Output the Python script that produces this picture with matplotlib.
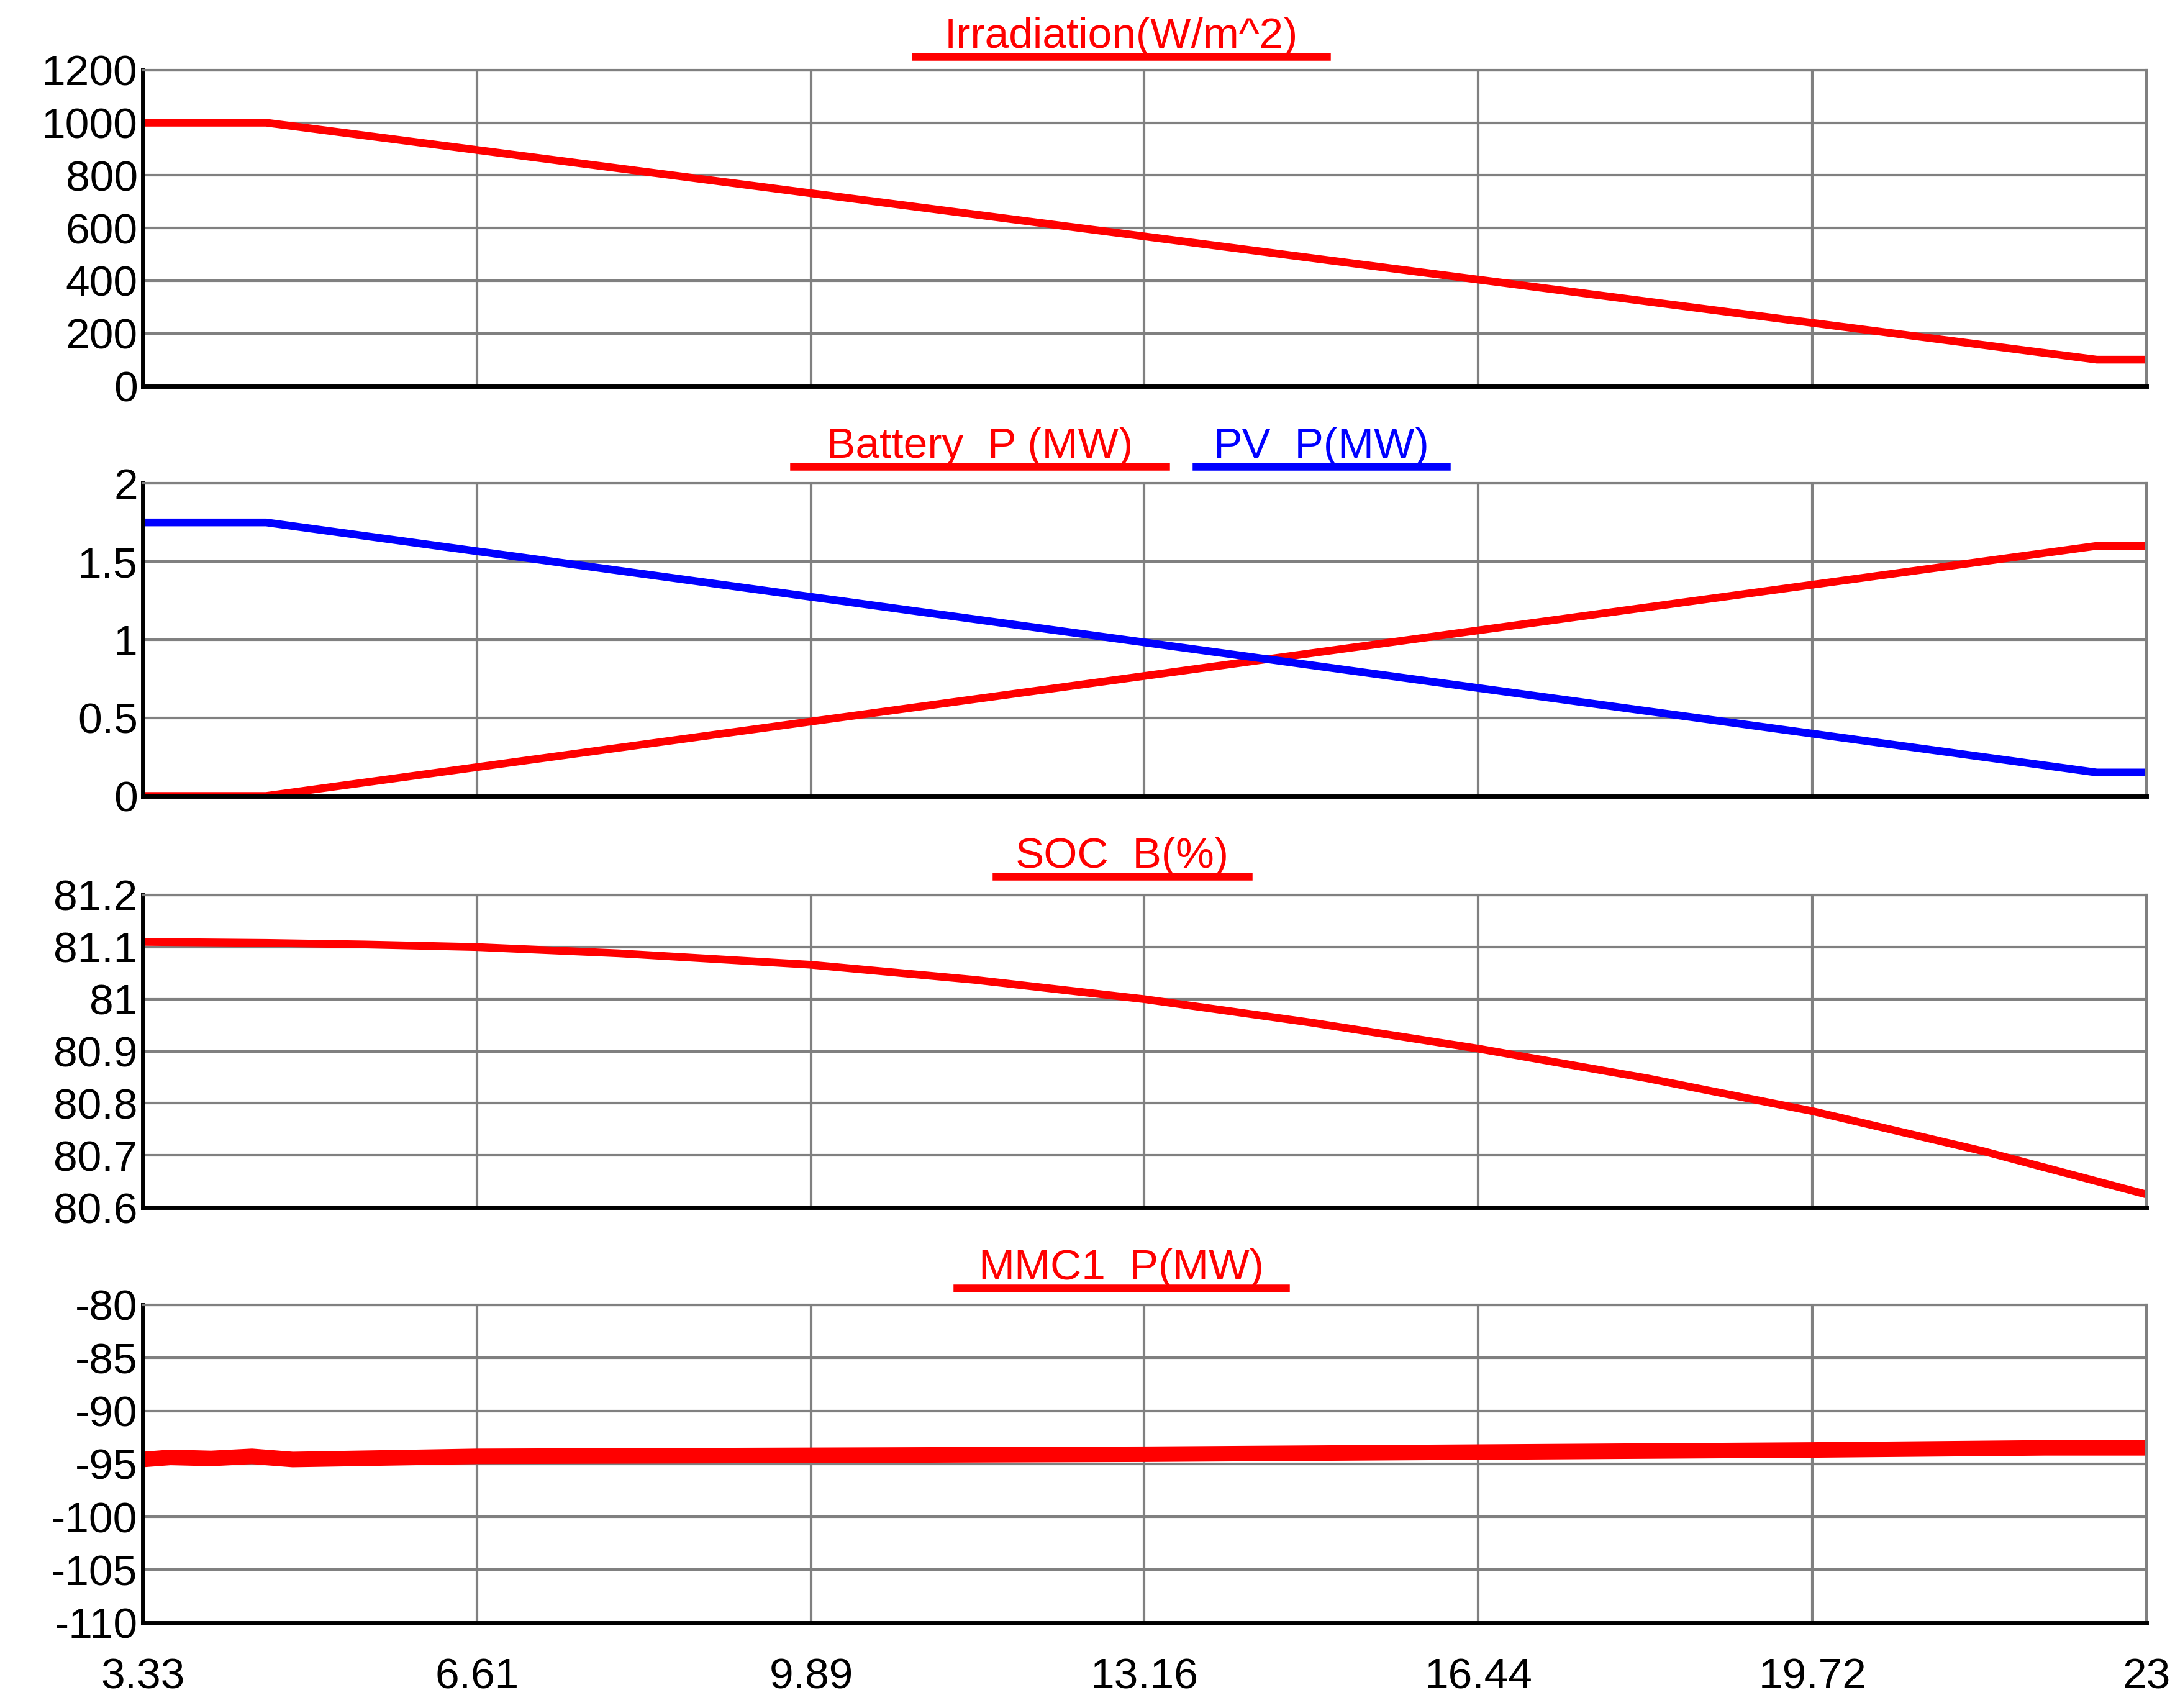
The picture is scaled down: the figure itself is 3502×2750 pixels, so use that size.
import matplotlib.pyplot as plt
from matplotlib.lines import Line2D

plt.rcParams['font.family'] = ['Liberation Sans', 'DejaVu Sans']

x_ticks = [3.33, 6.61, 9.89, 13.16, 16.44, 19.72, 23]
x_tick_labels = ['3.33', '6.61', '9.89', '13.16', '16.44', '19.72', '23']

# time breakpoints (s)
t_ramp = [3.33, 4.54, 22.51, 23.0]
irradiation = [1000, 1000, 100, 100]
battery_p = [0.0, 0.0, 1.6, 1.6]
pv_p = [1.75, 1.75, 0.15, 0.15]

t_soc = [3.33, 4.54, 5.5, 6.61, 8.0, 9.89, 11.5, 13.16, 14.8, 16.44, 18.1, 19.72, 21.4, 23.0]
soc_b = [81.11, 81.108, 81.105, 81.1, 81.088, 81.066, 81.037, 81.0, 80.955, 80.905, 80.848, 80.785, 80.708, 80.625]

t_mmc = [3.33, 3.6, 4.0, 4.4, 4.8, 6.61, 9.89, 13.16, 16.44, 19.72, 22.0, 23.0]
mmc1_p = [-94.6, -94.4, -94.5, -94.3, -94.6, -94.3, -94.2, -94.1, -93.9, -93.7, -93.5, -93.5]

panels = [
    (0.774, 0.959, (0, 1200), [0, 200, 400, 600, 800, 1000, 1200], ['0', '200', '400', '600', '800', '1000', '1200']),
    (0.534, 0.717, (0, 2), [0, 0.5, 1, 1.5, 2], ['0', '0.5', '1', '1.5', '2']),
    (0.293, 0.476, (80.6, 81.2), [80.6, 80.7, 80.8, 80.9, 81.0, 81.1, 81.2],
     ['80.6', '80.7', '80.8', '80.9', '81', '81.1', '81.2']),
    (0.050, 0.236, (-110, -80), [-110, -105, -100, -95, -90, -85, -80],
     ['-110', '-105', '-100', '-95', '-90', '-85', '-80']),
]

FS = 50

fig = plt.figure(figsize=(35.02, 27.5), dpi=100)
axes = []
for i, (b, t, ylim, yt, ytl) in enumerate(panels):
    ax = fig.add_axes([0.0657, b, 0.987 - 0.0657, t - b])
    ax.set_xlim(3.33, 23)
    ax.set_ylim(*ylim)
    ax.set_yticks(yt)
    ax.set_yticklabels(ytl, fontsize=FS)
    ax.set_xticks(x_ticks)
    ax.grid(True, color='#808080', linewidth=3)
    for s in ['top', 'right']:
        ax.spines[s].set_color('#808080')
        ax.spines[s].set_linewidth(3)
    for s in ['left', 'bottom']:
        ax.spines[s].set_color('black')
        ax.spines[s].set_linewidth(5)
    ax.tick_params(length=0, pad=6)
    if i < 3:
        ax.set_xticklabels([])
    else:
        ax.set_xticklabels(x_tick_labels, fontsize=FS)
        ax.tick_params(axis='x', pad=40)
    axes.append(ax)

axes[0].plot(t_ramp, irradiation, color='red', lw=9)
axes[1].plot(t_ramp, battery_p, color='red', lw=9)
axes[1].plot(t_ramp, pv_p, color='blue', lw=9)
axes[2].plot(t_soc, soc_b, color='red', lw=9)
axes[3].plot(t_mmc, mmc1_p, color='red', lw=18)

# titles with underline
titles = [
    ('Irradiation(W/m^2)', 'red', 0.421, 0.610, 0.967),
    ('Battery_P (MW)', 'red', 0.365, 0.536, 0.727),
    ('PV_P(MW)', 'blue', 0.550, 0.665, 0.727),
    ('SOC_B(%)', 'red', 0.458, 0.574, 0.487),
    ('MMC1_P(MW)', 'red', 0.440, 0.591, 0.246),
]
for txt, col, x0, x1, uy in titles:
    fig.text((x0 + x1) / 2, uy + 0.005, txt, color=col, fontsize=FS, ha='center', va='baseline')
    fig.add_artist(Line2D([x0, x1], [uy, uy], color=col, lw=9, transform=fig.transFigure))

fig.savefig('out.png', dpi=100)
